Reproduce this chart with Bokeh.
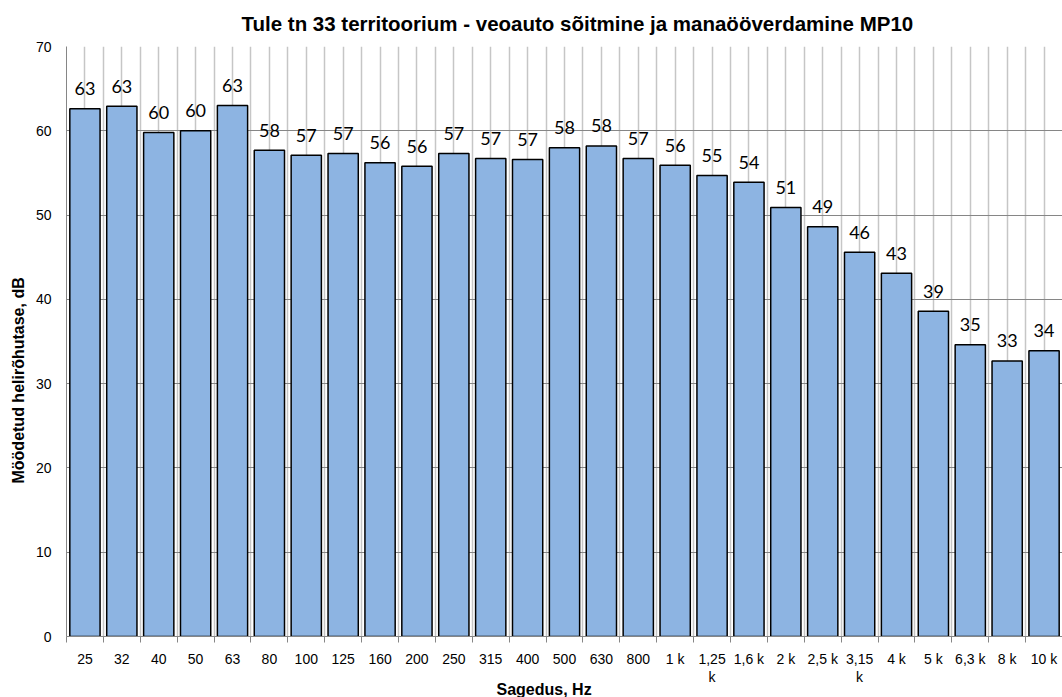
import numpy as np
from bokeh.plotting import figure
from bokeh.models import Range1d, FixedTicker, ColumnDataSource, Title
from bokeh.core.properties import value
from bokeh.embed import file_html
from bokeh.resources import INLINE

categories = ["25", "32", "40", "50", "63", "80", "100", "125", "160", "200",
              "250", "315", "400", "500", "630", "800", "1 k", "1,25\nk", "1,6 k",
              "2 k", "2,5 k", "3,15\nk", "4 k", "5 k", "6,3 k", "8 k", "10 k"]
values = [62.6, 62.9, 59.8, 60.0, 63.0, 57.7, 57.1, 57.3, 56.2, 55.8,
          57.3, 56.7, 56.6, 58.0, 58.2, 56.7, 55.9, 54.7, 53.9,
          50.9, 48.6, 45.6, 43.1, 38.6, 34.6, 32.7, 33.9]
y_ticks = [0, 10, 20, 30, 40, 50, 60, 70]
title_text = "Tule tn 33 territoorium - veoauto sõitmine ja manaööverdamine MP10"
x_title = "Sagedus, Hz"
y_title = "Möödetud helirõhutase, dB"

n = len(categories)
centers = [i + 0.5 for i in range(n)]
labels = [f"{v:.0f}" for v in values]
src = ColumnDataSource(dict(x=centers, top=values, label=labels))

p = figure(width=1062, height=697, output_backend="svg", toolbar_location=None,
           x_range=Range1d(0, n), y_range=Range1d(0, 70),
           min_border_left=66, min_border_right=0, min_border_top=46,
           min_border_bottom=61)
p.outline_line_color = None

p.title.text = title_text
p.title.align = "left"
p.title.offset = 175
p.title.vertical_align = "top"
p.title.text_font = "Liberation Sans"
p.title.text_font_style = "bold"
p.title.text_font_size = "20.5px"
p.title.text_color = "#000000"
p.title.standoff = 19

# grids
p.xgrid.ticker = FixedTicker(ticks=[i * 0.5 for i in range(2 * n + 1)])
p.xgrid.grid_line_color = "#c6c6c6"
p.xgrid.grid_line_width = 1.5
p.ygrid.ticker = FixedTicker(ticks=y_ticks)
p.ygrid.grid_line_color = "#868686"
p.ygrid.grid_line_width = 1

# x axis
xa = p.xaxis[0]
xa.ticker = FixedTicker(ticks=centers, minor_ticks=list(range(n + 1)))
xa.major_label_overrides = {c: lab for c, lab in zip(centers, categories)}
xa.major_tick_line_color = None
xa.major_tick_out = 0
xa.major_tick_in = 0
xa.minor_tick_line_color = "#868686"
xa.minor_tick_out = 6
xa.minor_tick_in = 0
xa.axis_line_color = "#868686"
xa.major_label_standoff = 8
xa.major_label_text_font = "Liberation Sans"
xa.major_label_text_font_size = "14px"
xa.major_label_text_line_height = 1.15
xa.major_label_text_color = "#000000"

# y axis
ya = p.yaxis[0]
ya.ticker = FixedTicker(ticks=y_ticks)
ya.major_tick_line_color = None
ya.minor_tick_line_color = None
ya.major_tick_out = 0
ya.major_tick_in = 0
ya.axis_line_color = "#868686"
ya.major_label_standoff = 15
ya.major_label_text_font = "Liberation Sans"
ya.major_label_text_font_size = "14px"
ya.major_label_text_color = "#000000"

# axis titles as side-panel titles (so they can be offset like the original)
p.add_layout(Title(text=x_title, align="left", offset=430, vertical_align="middle",
                   standoff=-16, text_font="Liberation Sans", text_font_style="bold",
                   text_font_size="16px", text_color="#000000"), "below")
p.add_layout(Title(text=y_title, align="left", offset=153, vertical_align="middle",
                   standoff=9, text_font="Liberation Sans", text_font_style="bold",
                   text_font_size="16px", text_color="#000000"), "left")

p.vbar(x="x", top="top", bottom=0, width=0.82, source=src,
       fill_color="#8DB4E2", line_color="#000000", line_width=1.5)

p.text(x="x", y="top", text="label", source=src, text_align="center",
       text_baseline="alphabetic", y_offset=-20,
       text_font=value("Lato"), text_font_size=value("18px"), text_color="#000000")

open("out.html", "w").write(file_html(p, INLINE))
